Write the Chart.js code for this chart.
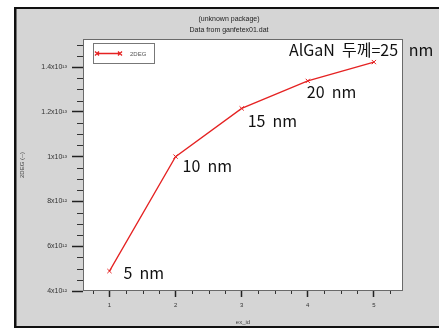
<!DOCTYPE html>
<html>
<head>
<meta charset="utf-8">
<title>2DEG vs ex_id</title>
<script src="https://cdn.jsdelivr.net/npm/chart.js@4.4.0/dist/chart.umd.min.js"></script>
<style>
  html, body { margin: 0; padding: 0; background: #fff; overflow: hidden; }
  canvas { display: block; }
</style>
</head>
<body>
<canvas id="myChart" width="439" height="329"></canvas>
<script>
// Data
const exIds = [1, 2, 3, 4, 5];
const deg2Values = [4.89e12, 1.0e13, 1.215e13, 1.338e13, 1.422e13];
const thicknessLabels = ['5  nm', '10  nm', '15  nm', '20  nm', 'AlGaN  두께=25   nm'];
const xTicks = [1, 2, 3, 4, 5];
const yTicks = [4e12, 6e12, 8e12, 1e13, 1.2e13, 1.4e13];
const xMinorStep = 0.25;
const yMinorStep = 5e11;
const titleLines = ['(unknown package)', 'Data from ganfetex01.dat'];
const seriesName = '2DEG';

// where each thickness label sits relative to its point (px)
const labelOffsets = [[14, 8], [7, 15], [6, 19], [-1, 17], [-85, -6]];

const RED = '#e52222';
const SUP = { '0': '⁰', '1': '¹', '2': '²', '3': '³', '4': '⁴', '5': '⁵', '6': '⁶', '7': '⁷', '8': '⁸', '9': '⁹' };

function sciLabel(v) {
    const exp = Math.floor(Math.log10(v) + 1e-9);
    let mant = +(v / Math.pow(10, exp)).toFixed(2);
    const supExp = String(exp).split('').map(c => SUP[c]).join('');
    return (mant === 1 ? '1' : String(mant)) + 'x10' + supExp;
}

// gray frame, black border lines, white plot area
const framePlugin = {
    id: 'frame',
    beforeDraw: (chart) => {
        const { ctx, chartArea: a } = chart;
        ctx.save();
        ctx.fillStyle = '#ffffff';
        ctx.fillRect(0, 0, chart.width, chart.height);
        ctx.fillStyle = '#d5d5d5';
        ctx.fillRect(14, 7, chart.width - 14, 321);
        ctx.fillStyle = '#111';
        ctx.fillRect(14, 7, 2.5, 321);
        ctx.fillRect(14, 7, chart.width - 14, 2);
        ctx.fillRect(14, 326, chart.width - 14, 2);
        ctx.fillStyle = '#ffffff';
        ctx.fillRect(a.left, a.top, a.right - a.left, a.bottom - a.top);
        ctx.restore();
    },
    afterDraw: (chart) => {
        const { ctx, chartArea: a, scales } = chart;
        ctx.save();
        // plot border
        ctx.strokeStyle = '#6a6a6a';
        ctx.lineWidth = 1;
        ctx.strokeRect(a.left + 0.5, a.top + 0.5, a.right - a.left - 1, a.bottom - a.top - 1);

        // minor ticks
        ctx.strokeStyle = '#333';
        ctx.beginPath();
        const y = scales.y;
        for (let v = y.min; v <= y.max + 1; v += yMinorStep) {
            if (yTicks.some(t => Math.abs(t - v) < 1)) continue;
            const py = Math.round(y.getPixelForValue(v)) + 0.5;
            ctx.moveTo(a.left - 6, py);
            ctx.lineTo(a.left, py);
        }
        const x = scales.x;
        for (let v = Math.ceil(x.min / xMinorStep) * xMinorStep; v <= x.max; v += xMinorStep) {
            if (xTicks.some(t => Math.abs(t - v) < 1e-6)) continue;
            const px = Math.round(x.getPixelForValue(v)) + 0.5;
            ctx.moveTo(px, a.bottom);
            ctx.lineTo(px, a.bottom + 3);
        }
        ctx.stroke();

        // legend box
        ctx.fillStyle = '#fff';
        ctx.fillRect(93, 43, 61, 20);
        ctx.strokeStyle = '#777';
        ctx.strokeRect(93.5, 43.5, 61, 20);
        ctx.strokeStyle = RED;
        ctx.lineWidth = 1.3;
        ctx.beginPath();
        ctx.moveTo(97, 53.5);
        ctx.lineTo(120, 53.5);
        [97, 120].forEach(cx => {
            ctx.moveTo(cx - 2, 51.5); ctx.lineTo(cx + 2, 55.5);
            ctx.moveTo(cx + 2, 51.5); ctx.lineTo(cx - 2, 55.5);
        });
        ctx.stroke();
        ctx.fillStyle = '#555';
        ctx.font = '6px "Liberation Sans", Arial, sans-serif';
        ctx.textBaseline = 'middle';
        ctx.fillText(seriesName, 130, 54);

        // thickness annotations next to each point
        const meta = chart.getDatasetMeta(0);
        ctx.fillStyle = '#111';
        ctx.font = '16px "Noto Sans CJK KR", "Noto Sans", sans-serif';
        ctx.textBaseline = 'alphabetic';
        meta.data.forEach((pt, i) => {
            const [dx, dy] = labelOffsets[i];
            ctx.fillText(thicknessLabels[i], pt.x + dx, pt.y + dy);
        });
        ctx.restore();
    }
};

const ctx = document.getElementById('myChart').getContext('2d');
const myChart = new Chart(ctx, {
    type: 'line',
    data: {
        datasets: [{
            label: seriesName,
            data: exIds.map((x, i) => ({ x: x, y: deg2Values[i] })),
            borderColor: RED,
            backgroundColor: RED,
            borderWidth: 1.3,
            pointStyle: 'crossRot',
            pointRadius: 3,
            pointBorderWidth: 1,
            fill: false,
            tension: 0
        }]
    },
    options: {
        responsive: false,
        devicePixelRatio: 1,
        animation: false,
        layout: { padding: { left: 19, right: 0, top: 0, bottom: 0 } },
        plugins: {
            legend: { display: false },
            tooltip: { enabled: false },
            title: {
                display: true,
                text: titleLines,
                color: '#222',
                font: { family: '"Liberation Sans", Arial, sans-serif', size: 7, weight: 'normal', lineHeight: '11px' },
                padding: { top: 14, bottom: 3 }
            }
        },
        scales: {
            x: {
                type: 'linear',
                min: 0.6,
                max: 5.44,
                afterBuildTicks: (s) => { s.ticks = xTicks.map(v => ({ value: v })); },
                afterFit: (s) => { s.height = 38; },
                ticks: {
                    color: '#333',
                    font: { family: '"Liberation Sans", Arial, sans-serif', size: 6 },
                    padding: 5,
                    maxRotation: 0
                },
                grid: { drawOnChartArea: false, tickLength: 6, tickColor: '#222', tickWidth: 1.5 },
                border: { display: false },
                title: {
                    display: true,
                    text: 'ex_id',
                    color: '#444',
                    font: { family: '"Liberation Sans", Arial, sans-serif', size: 6 },
                    padding: { top: 0, bottom: 3 }
                }
            },
            y: {
                type: 'linear',
                min: 4e12,
                max: 1.525e13,
                afterBuildTicks: (s) => { s.ticks = yTicks.map(v => ({ value: v })); },
                afterFit: (s) => { s.width = 64; },
                ticks: {
                    color: '#333',
                    font: { family: '"Liberation Sans", Arial, sans-serif', size: 7 },
                    padding: 5,
                    callback: (v) => sciLabel(v)
                },
                grid: { drawOnChartArea: false, tickLength: 11, tickColor: '#222', tickWidth: 1.5 },
                border: { display: false },
                title: {
                    display: true,
                    text: '2DEG (--)',
                    color: '#444',
                    font: { family: '"Liberation Sans", Arial, sans-serif', size: 6 },
                    padding: { top: 0, bottom: 0 }
                }
            },
            // empty right-hand axis that only reserves the margin right of the plot
            yRight: {
                type: 'linear',
                position: 'right',
                afterFit: (s) => { s.width = 36; },
                ticks: { display: false },
                grid: { display: false, drawTicks: false },
                border: { display: false }
            }
        }
    },
    plugins: [framePlugin]
});
</script>
</body>
</html>
